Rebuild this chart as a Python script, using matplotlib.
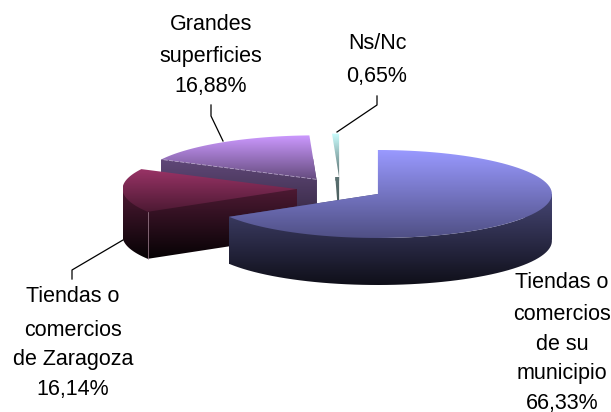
import numpy as np
import matplotlib
matplotlib.use('Agg')
import matplotlib.pyplot as plt
from matplotlib.path import Path
from matplotlib.patches import PathPatch

plt.rcParams['font.family'] = ['Liberation Sans', 'DejaVu Sans']

# Datos
categorias = ['Tiendas o\ncomercios\nde su\nmunicipio', 'Tiendas o\ncomercios\nde Zaragoza',
              'Grandes\nsuperficies', 'Ns/Nc']
valores = [66.33, 16.14, 16.88, 0.65]
colores = ['#9999ff', '#993366', '#cc99ff', '#ccffff']

# Oscurecimiento del degradado: cara superior y lateral (inicio, fin)
sombra_top = [(1.0, 0.52), (1.0, 0.50), (1.0, 0.50), (1.0, 0.42)]
sombra_lado = [(0.46, 0.10), (0.50, 0.04), (0.47, 0.24), (0.45, 0.28)]
tope_lado = [0.0, 0.0, 0.45, 0.0]  # donde empieza el degradado lateral, sobre el centro
ancho_lado = [1.0, 1.0, 1.0, 0.5]  # la porcion Ns/Nc casi no muestra lateral
orden = [2, 3, 1, 0]  # de atras hacia delante

W, H = 611, 412
CX, CY, RX, RY = 340.0, 188.6, 174.0, 44.0
PROF = 47.0 / RY

fig = plt.figure(figsize=(W / 100, H / 100), dpi=100)
ax = fig.add_axes([0, 0, 1, 1])

wedges, _ = ax.pie(valores, explode=[0.25] * 4, startangle=90, counterclock=False,
                   colors=colores, radius=1)


def degradado(color, ini, fin, ymax, ymin, xmin, xmax, clip, z):
    c = np.array(matplotlib.colors.to_rgb(color))
    t = np.linspace(ini, fin, 128)[:, None, None]
    img = t * c[None, None, :]
    im = ax.imshow(img, extent=(xmin, xmax, ymin, ymax), origin='upper', aspect='auto',
                   interpolation='bilinear', zorder=z)
    im.set_clip_path(clip)


for n, i in enumerate(orden):
    w = wedges[i]
    w.set_visible(False)
    ang = np.radians(np.linspace(w.theta1, w.theta2, 90))
    cx, cy = w.center
    xs = np.r_[cx, cx + np.cos(ang)]
    ys = np.r_[cy, cy + np.sin(ang)]
    z = 2 + n * 2

    # lateral: extruir cada segmento del contorno hacia abajo
    xl = cx + (xs - cx) * ancho_lado[i]
    quads = []
    for k in range(len(xs)):
        j = (k + 1) % len(xs)
        q = np.array([[xl[k], ys[k]], [xl[j], ys[j]], [xl[j], ys[j] - PROF], [xl[k], ys[k] - PROF]])
        area = np.sum(q[:, 0] * np.roll(q[:, 1], -1) - np.roll(q[:, 0], -1) * q[:, 1])
        if area < 0:
            q = q[::-1]
        quads.append(Path(np.vstack([q, q[0]]), closed=True))
    lado = PathPatch(Path.make_compound_path(*quads), transform=ax.transData, fc='none', ec='none')
    ax.add_patch(lado)
    degradado(colores[i], *sombra_lado[i], cy + tope_lado[i], ys.min() - PROF, xs.min(), xs.max(), lado, z)

    # cara superior
    tapa = PathPatch(Path(np.c_[np.r_[xs, xs[0]], np.r_[ys, ys[0]]], closed=True),
                     transform=ax.transData, fc='none', ec='none')
    ax.add_patch(tapa)
    degradado(colores[i], *sombra_top[i], ys.max(), ys.min(), xs.min(), xs.max(), tapa, z + 1)

    # filos claros
    if i == 2:
        e = 1 if xs[1] < xs[-1] else -1
        ax.plot([xs[0], xs[e]], [ys[0], ys[e]], color='#c4b4d4', lw=0.5, ls=(0, (6, 2)), zorder=z + 1)
    if i == 1:
        e = 1 if ys[1] < ys[-1] else -1
        ax.plot([xs[e], xs[e]], [ys[e], ys[e] - PROF], color='#a88898', lw=0.5, zorder=z + 1)

ax.set_aspect('auto')
ax.set_xlim(-CX / RX, (W - CX) / RX)
ax.set_ylim((CY - H) / RY, CY / RY)
ax.set_axis_off()

# Capa en pixeles para etiquetas y lineas guia
capa = fig.add_axes([0, 0, 1, 1], facecolor='none')
capa.set_xlim(0, W)
capa.set_ylim(H, 0)
capa.set_axis_off()

guias = [[(211, 105), (211, 116), (223, 141)],
         [(377, 96), (377, 105), (337, 132)],
         [(72, 279), (72, 270), (123, 240)]]
for g in guias:
    capa.plot([p[0] for p in g], [p[1] for p in g], color='black', lw=0.9, zorder=20)


def etiqueta(idx, x, ys_lineas):
    lineas = categorias[idx].split('\n') + [f'{valores[idx]:.2f}%'.replace('.', ',')]
    for linea, y in zip(lineas, ys_lineas):
        capa.text(x, y, linea, ha='center', va='center', fontsize=15.5, color='black', zorder=21)


etiqueta(0, 562, [282, 315, 345, 373, 403])
etiqueta(1, 73, [297, 330, 360, 390])
etiqueta(2, 211, [24, 56, 86])
etiqueta(3, 377, [43, 76])

fig.savefig('out.png', dpi=100)
